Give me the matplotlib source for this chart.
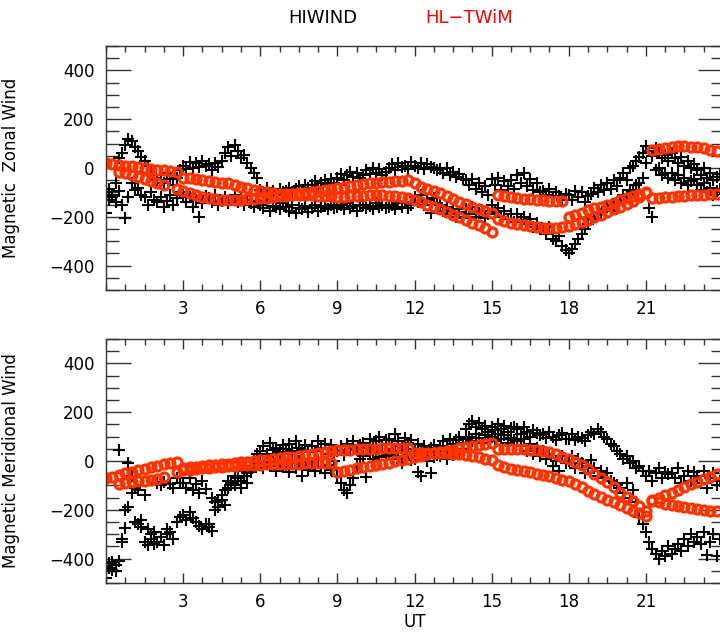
import numpy as np
import matplotlib
matplotlib.use("Agg")
import matplotlib.pyplot as plt
from matplotlib.ticker import MultipleLocator

nan = np.nan

# HIWIND samples every 7.5 min, HL-TWiM every 15 min (UT hours)
ut_hiwind = np.arange(0, 24, 0.125)
ut_model = np.arange(0, 24, 0.25)

# ---- magnetic zonal wind (m/s) ----
zon_hiwind_a = [
    -100, -85, -120, -60, 40, 60, 95, 120,
    110, 85, 70, 45, 30, 10, -20, -40,
    -50, -30, -60, -20, -45, -70, -40, -10,
    10, -5, 25, 0, 20, 5, 30, 10,
    15, -10, 20, 5, 30, 60, 85, 50,
    95, 70, 40, 55, 20, 0, -20, -40,
    -90, -100, -80, -105, -95, -110, -85, -100,
    -95, -80, -100, -85, -75, -90, -70, -80,
    -70, -55, -80, -60, -50, -65, -45, -60,
    -40, -25, -50, -30, -15, -35, -20, -40,
    -30, -10, -25, 0, -20, -5, -30, -15,
    0, 15, -10, 20, 5, 10, -5, 25,
    10, 0, 20, -5, 15, 5, 0, -10,
    -5, -20, 0, -30, -15, -35, -25, -45,
    -50, -70, -45, -85, -60, -100, -75, -110,
    -45, -70, -40, -90, -55, -75, -50, -85,
    -30, -60, -20, -75, -45, -90, -60, -100,
    -95, -110, -85, -120, -100, -115, -130, -105,
    -110, -130, -95, -120, -100, -140, -115, -105,
    -80, -100, -70, -90, -60, -85, -50, -75,
    -40, -20, -50, 0, 10, 30, 45, 60,
    90, 70, 50, 80, 60, 40, 55, 30,
    60, 40, 20, 45, 10, 30, 0, 15,
    -10, -30, 0, -40, -20, -50, -35, -25,
]
zon_hiwind_b = [
    -185, -130, -110, -140, -95, -150, -204, -120,
    -60, -90, -80, -110, -120, -150, -100, -130,
    -140, -120, -160, -135, -110, -150, -125, -100,
    -110, -140, -120, -160, -130, -201, -145, -115,
    -125, -140, -110, -150, -135, -120, -145, -130,
    -110, -140, -125, -150, -130, -145, -160, -135,
    -150, -165, -140, -175, -155, -160, -170, -145,
    -160, -175, -150, -185, -165, -170, -155, -180,
    -165, -150, -175, -160, -155, -170, -150, -165,
    -160, -150, -170, -145, -165, -155, -175, -150,
    -150, -165, -155, -170, -145, -160, -150, -165,
    -160, -150, -170, -145, -160, -140, -165, -150,
    -120, -140, -110, -150, -130, -184, -125, -145,
    -150, -175, -160, -190, -170, -200, -180, -205,
    -170, -190, -160, -200, -185, -175, -205, -190,
    -150, -180, -165, -200, -175, -210, -190, -220,
    -190, -215, -200, -230, -210, -240, -225, -250,
    -250, -270, -240, -290, -300, -280, -320, -335,
    -350, -330, -310, -290, -270, -250, -230, -210,
    -200, -180, -190, -170, -160, -175, -150, -140,
    -130, -110, -120, -90, -100, -70, -60, -40,
    20, -163, -200, -10, 0, -30, -20, -40,
    -20, -50, -30, -60, -40, -70, -55, -45,
    -70, -90, -60, -100, -80, -110, -95, -85,
]
zon_twim_a = [
    20, 17, 14, 10,   7, 3, 0, -4,   -7, -10, -14, -17,
    -40, -43, -47, -51,   -54, -57, -60, -63,   -70, -77, -84, -90,
    -95, -100, -104, -106,   -106, -105, -104, -102,   -97, -93, -89, -85,
    -80, -76, -72, -69,   -66, -63, -60, -58,   -56, -54, -52, -50,
    -62, -76, -85, -94,   -104, -116, -127, -138,   -149, -159, -168, -177,
    -185, -112, -116, -120,   -123, -126, -128, -130,   -132, -134, -135, -136,
    -199, -192, -183, -174,   -166, -159, -150, -142,   -133, -125, -116, -107,
    -97, 72, 78, 84,   88, 90, 90, 88,   85, 80, 75, 70,
]
zon_twim_b = [
    nan, nan, -15, -22,   -30, -37, -45, -52,   -60, -68, nan, -87,
    -95, -103, -112, -120,   -125, -128, -130, -131,   -131, -130, -128, -126,
    -124, -121, -118, -116,   -114, -112, -110, -110,   -111, -113, -115, -116,
    -117, -117, -116, -115,   -113, -111, -110, -111,   -113, -115, -118, -124,
    -132, -140, -150, -160,   -170, -180, -191, -202,   -213, -224, -235, -246,
    -264, -210, -218, -225,   -231, -235, -238, -241,   -244, -245, -244, -242,
    -238, -231, -222, -212,   -202, -193, -182, -170,   -158, -146, -134, -118,
    -104, -123, -121, -119,   -117, -116, -114, -112,   -110, -109, -108, -106,
]

# ---- magnetic meridional wind (m/s) ----
mer_hiwind_a = [
    -430, -440, -415, -450, 45, -320, -275, -190,
    -130, -250, -120, -270, -140, -280, -300, -290,
    -90, -100, -85, -280, -95, -110, -70, -90,
    -90, -110, -70, -120, -95, -130, -80, -115,
    -260, -285, -170, -190, -160, -180, -110, -90,
    -60, -40, -80, -30, -50, -20, 10, 30,
    40, 60, 30, 75, 45, 55, 35, 65,
    50, 70, 40, 80, 55, 45, 65, 35,
    60, 40, 80, 55, 70, 30, 65, 45,
    40, 60, 25, 70, 50, 80, 45, 65,
    75, 55, 90, 60, 80, 100, 65, 85,
    90, 70, 110, 80, 60, 95, 75, 85,
    50, 70, 40, 60, 35, 55, 65, 45,
    60, 80, 55, 90, 70, 85, 100, 75,
    130, 150, 165, 140, 155, 130, 145, 120,
    140, 125, 150, 130, 145, 120, 135, 140,
    130, 110, 140, 120, 100, 125, 115, 105,
    110, 95, 120, 100, 85, 105, 115, 90,
    90, 110, 85, 100, 95, 80, 105, 120,
    110, 130, 120, 100, 90, 70, 60, 40,
    30, 10, 20, -10, 0, -30, -20, -40,
    -60, -40, -80, -50, -30, -70, -45, -55,
    -50, -70, -30, -90, -60, -40, -80, -45,
    -60, -90, -40, -110, -70, -50, -100, -80,
]
mer_hiwind_b = [
    -480, -420, -445, -425, -410, -330, -200, -8,
    -60, -110, -260, -240, -330, -345, -320, -340,
    -330, -310, -345, -300, -290, -320, -250, -230,
    -220, -240, -210, -235, -250, -265, -280, -260,
    -270, -150, -200, -165, -140, -120, -80, -100,
    -100, -70, -110, -60, -90, -45, -20, -10,
    -10, -30, 0, -20, 10, -40, -5, -25,
    -20, -45, -10, -30, 0, -60, -15, -35,
    -10, -40, 5, -25, -50, -15, -35, 0,
    -60, -90, -120, -130, -100, -70, -20, 10,
    20, -65, 30, 10, 40, 15, 35, 20,
    30, 10, 40, 20, -10, 35, 25, 5,
    10, -45, -60, 20, 0, -50, 15, 25,
    20, 40, 10, 35, 25, 45, 30, 50,
    90, 100, 80, 110, 95, 75, 105, 85,
    100, 80, 110, 90, 105, 75, 95, 85,
    80, 60, 90, 40, 70, 30, 55, 20,
    40, 10, 30, -20, 0, -40, 20, -10,
    0, 20, -30, 10, -10, -50, -20, 5,
    -30, -60, -40, -70, -50, -80, -90, -100,
    -110, -130, -90, -150, -120, -170, -230, -260,
    -290, -330, -360, -380, -400, -370, -390, -350,
    -380, -360, -340, -370, -320, -350, -300, -330,
    -310, -340, -290, -385, -330, -300, -390, -320,
]
mer_twim_a = [
    -71, -64, -57, -50,   -44, -38, -32, -26,   -20, -14, -9, -5,
    -30, -26, -23, -20,   -17, -15, -13, -11,   -9, -6, -3, 0,
    3, 6, 9, 12,   15, 18, 21, 25,   29, 33, 37, 41,
    44, 45, 47, 48,   49, 50, 51, 52,   53, 53, 54, 55,
    31, 31, 31, 31,   31, 31, 30, 28,   25, 21, 16, 10,
    5, 50, 51, 51,   49, 48, 46, 44,   40, 36, 28, 18,
    7, -4, -16, -34,   -52, -68, -86, -108,   -130, -148, -165, -185,
    -205, -160, -150, -140,   -130, -120, -108, -96,   -85, -74, -64, -54,
]
mer_twim_b = [
    nan, nan, -94, -90,   -86, -83, -80, -76,   -72, -67, nan, -47,
    -38, -35, -32, -30,   -28, -26, -24, -22,   -20, -18, -17, -16,
    -15, -14, -13, -12,   -12, -11, -11, -10,   -10, -10, -10, -10,
    -44, -40, -35, -30,   -26, -21, -16, -12,   -7, -2, 3, 8,
    18, 22, 27, 32,   37, 42, 47, 52,   57, 61, 65, 69,
    72, -16, -25, -32,   -37, -42, -47, -52,   -58, -63, -69, -76,
    -83, -95, -108, -122,   -135, -146, -158, -170,   -182, -194, -205, -215,
    -225, -166, -170, -175,   -180, -185, -190, -194,   -198, -201, -204, -206,
]

xticks = [3, 6, 9, 12, 15, 18, 21]
yticks = [-400, -200, 0, 200, 400]
twim_color = '#ff3300'

plt.rcParams['font.family'] = ['DejaVu Sans']
fig = plt.figure(figsize=(7.2, 6.4), dpi=100)
ax1 = fig.add_axes([0.1472, 0.5469, 0.857, 0.3812])
ax2 = fig.add_axes([0.1472, 0.0891, 0.857, 0.3812])

panels = [
    (ax1, zon_hiwind_a, zon_hiwind_b, zon_twim_a, zon_twim_b, 'Magnetic  Zonal Wind'),
    (ax2, mer_hiwind_a, mer_hiwind_b, mer_twim_a, mer_twim_b, 'Magnetic Meridional Wind'),
]

for ax, hw_a, hw_b, tw_a, tw_b, label in panels:
    for hw in (hw_a, hw_b):
        ax.plot(ut_hiwind, hw, ls='none', marker='+', ms=8.5, mew=1.5, color='black')
    for tw in (tw_a, tw_b):
        ax.plot(ut_model, tw, ls='none', marker='o', ms=6.5, mew=2.3,
                mfc='none', mec=twim_color)
    ax.set_xlim(0, 24)
    ax.set_ylim(-500, 500)
    ax.set_xticks(xticks)
    ax.set_yticks(yticks)
    ax.xaxis.set_minor_locator(MultipleLocator(0.75))
    ax.yaxis.set_minor_locator(MultipleLocator(50))
    ax.tick_params(which='both', direction='in', top=True, right=True,
                   labelsize=12, width=1, color='#333333')
    ax.tick_params(axis='x', which='major', length=7, pad=7)
    ax.tick_params(axis='x', which='minor', length=4)
    ax.tick_params(axis='y', which='major', length=18, pad=8)
    ax.tick_params(axis='y', which='minor', length=9)
    for sp in ax.spines.values():
        sp.set_color('#333333')
        sp.set_linewidth(1)
    ax.set_ylabel(label, fontsize=12)
    ax.yaxis.set_label_coords(-0.139, 0.5)

ax2.set_xlabel('UT', fontsize=12, labelpad=2)

fig.text(0.449, 0.972, 'HIWIND', fontsize=13, ha='center', va='center')
fig.text(0.651, 0.972, 'HL\u2212TWiM', fontsize=13, ha='center', va='center', color='red')

fig.savefig('out.png', dpi=100)
